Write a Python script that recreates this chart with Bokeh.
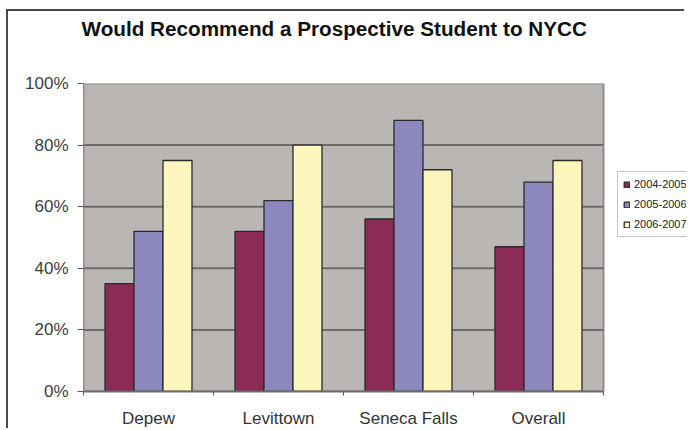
from bokeh.plotting import figure
from bokeh.models import FixedTicker, Legend, LegendItem, NumeralTickFormatter, Range1d, Title
from bokeh.embed import file_html
from bokeh.resources import INLINE

categories = ["Depew", "Levittown", "Seneca Falls", "Overall"]
series_names = ["2004-2005", "2005-2006", "2006-2007"]
v2004 = [0.35, 0.52, 0.56, 0.47]
v2005 = [0.52, 0.62, 0.88, 0.68]
v2006 = [0.75, 0.80, 0.72, 0.75]
y_ticks = [0.0, 0.2, 0.4, 0.6, 0.8, 1.0]

colors = ["#8a2c55", "#8c88bd", "#fcf6bd"]
FONT = "Liberation Sans"

W, H = 678, 419
LEFT, TOP = 75, 72
AREA_W = 520                       # pixel width of the grey plotting area
n = len(categories)
x_end = n * (W - LEFT) / AREA_W    # frame extends to the right edge to host the legend

p = figure(width=W, height=H, output_backend="svg", toolbar_location=None,
           x_range=Range1d(0, x_end), y_range=Range1d(0, 1.0),
           min_border_left=LEFT, min_border_right=0, min_border_top=TOP, min_border_bottom=30)
p.styles = {"border-top": "2px solid #4a4a4a", "border-left": "2px solid #4a4a4a",
            "margin-left": "6px", "margin-top": "9px"}

p.background_fill_color = "white"
p.border_fill_color = "white"
p.outline_line_color = None

# grey plotting area + grid lines
p.quad(left=0, right=n, bottom=y_ticks[0], top=y_ticks[-1], fill_color="#b9b6b3",
       line_color="#8e8c8a", line_width=2)
p.segment(x0=[0] * (len(y_ticks) - 2), x1=[n] * (len(y_ticks) - 2),
          y0=y_ticks[1:-1], y1=y_ticks[1:-1], line_color="#6f6b6b", line_width=2)

bw = 0.223
offsets = [-bw, 0.0, bw]
renderers = []
for vals, off, col in zip([v2004, v2005, v2006], offsets, colors):
    xs = [i + 0.5 + off for i in range(n)]
    r = p.vbar(x=xs, top=vals, width=bw, bottom=0, fill_color=col,
               line_color="#2a2a2a", line_width=1.3)
    renderers.append(r)

# y axis
p.yaxis.ticker = FixedTicker(ticks=y_ticks)
p.yaxis.formatter = NumeralTickFormatter(format="0%")
p.yaxis.major_label_text_font = FONT
p.yaxis.major_label_text_font_size = "17px"
p.yaxis.major_label_text_color = "#3d3d3d"
p.yaxis.axis_line_color = "#8e8c8a"
p.yaxis.major_tick_line_color = "#555555"
p.yaxis.major_tick_out = 6
p.yaxis.major_tick_in = 0
p.yaxis.minor_tick_line_color = None
p.yaxis.major_label_standoff = 9

# x axis
p.xaxis.bounds = (0, n)
p.xaxis.ticker = FixedTicker(ticks=[i + 0.5 for i in range(n)],
                             minor_ticks=list(range(n + 1)))
p.xaxis.major_label_overrides = {i + 0.5: c for i, c in enumerate(categories)}
p.xaxis.major_label_text_font = FONT
p.xaxis.major_label_text_font_size = "17px"
p.xaxis.major_label_text_color = "#333333"
p.xaxis.major_tick_line_color = None
p.xaxis.minor_tick_line_color = "#555555"
p.xaxis.minor_tick_out = 4
p.xaxis.minor_tick_in = 0
p.xaxis.axis_line_color = "#6e6b6b"
p.xaxis.axis_line_width = 2
p.xaxis.major_label_standoff = 11

p.xgrid.grid_line_color = None
p.ygrid.grid_line_color = None

p.title.text = "Would Recommend a Prospective Student to NYCC"
p.title.text_font = FONT
p.title.text_font_size = "20.7px"
p.title.text_font_style = "bold"
p.title.text_color = "#111111"
p.title.align = "left"
p.title.offset = -2
p.title.vertical_align = "top"

# blank spacer between title and frame
p.add_layout(Title(text=" ", text_font_size="22px"), "above")

legend = Legend(items=[LegendItem(label=s, renderers=[r]) for s, r in zip(series_names, renderers)],
                location=(534, 154))
legend.label_text_font = FONT
legend.label_text_font_size = "11px"
legend.label_text_color = "#222222"
legend.glyph_width = 7
legend.glyph_height = 7
legend.label_height = 14
legend.spacing = 6
legend.padding = 5
legend.margin = 0
legend.label_standoff = 4
legend.border_line_color = "#8a8a8a"
legend.border_line_width = 1
legend.background_fill_color = "white"
legend.background_fill_alpha = 1.0
p.add_layout(legend)

open("out.html", "w").write(file_html(p, INLINE))
